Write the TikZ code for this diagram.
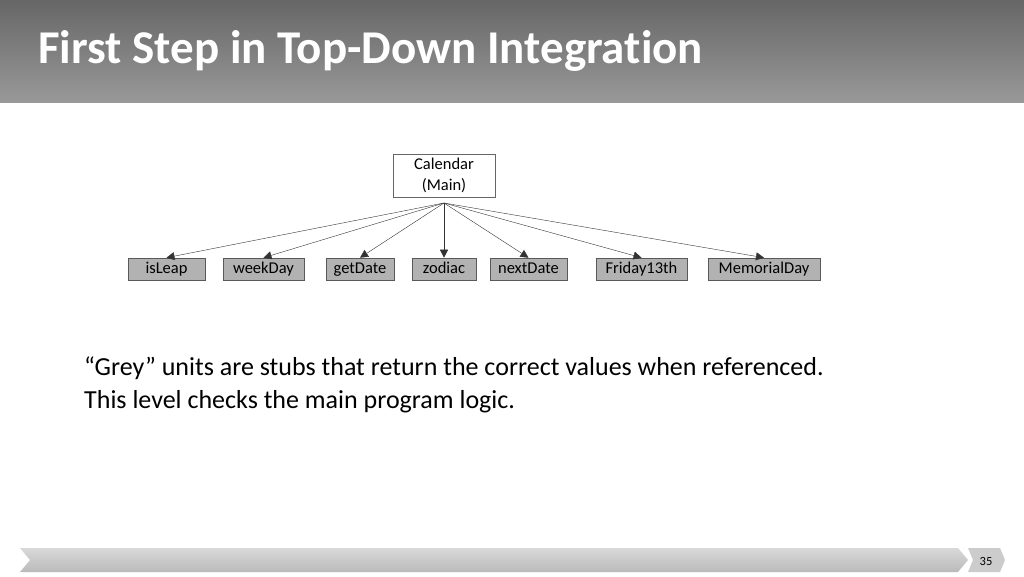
\documentclass[tikz,border=0pt]{standalone}
\usepackage{fontspec}
\setmainfont{Carlito}[Ligatures=NoCommon]
\usetikzlibrary{arrows.meta}
\begin{document}
\begin{tikzpicture}[x=1pt,y=-1pt,
  unit/.style={draw=gray!70!black,fill=black!30,line width=0.6pt,inner sep=0pt,text height=11pt,text depth=3pt,font=\fontsize{16.5}{18}\selectfont},
  link/.style={draw=black!80,line width=0.4pt,-{Triangle[length=8pt,width=8pt]}}]
\useasboundingbox (0,0) rectangle (1024,576);
\shade[top color=black!60,bottom color=black!40] (0,0) rectangle (1024,102);
\node[anchor=base west,text=white,font=\fontsize{47}{50}\selectfont\bfseries,inner sep=0] (title) at (38,63) {First Step in Top-Down Integration};
\node[draw=black!60,fill=white,line width=0.6pt,minimum width=102pt,minimum height=43pt,align=center,font=\fontsize{16.5}{21}\selectfont] (cal) at (444,175.5) {Calendar\\ (Main)};
\coordinate (o) at (444,203);
\foreach \n/\t/\a/\b in {isleap/isLeap/128/205,weekday/weekDay/223/304,getdate/getDate/326/394,zodiac/zodiac/412/476,nextdate/nextDate/490/567,fri/Friday13th/596/687,mem/MemorialDay/708/820}{
  \node[unit,minimum width={\b-\a},minimum height=22pt] (\n) at ({(\a+\b)/2},269) {\t};
  \draw[link] (o) -- (\n.north);
}
\node[anchor=base west,inner sep=0,font=\fontsize{26}{30}\selectfont] (txt) at (84,375) {“Grey” units are stubs that return the correct values when referenced.};
\node[anchor=base west,inner sep=0,font=\fontsize{26}{30}\selectfont] (txt2) at (84,408) {This level checks the main program logic.};
\shade[top color=black!15,bottom color=black!27] (20,548) -- (958,548) -- (968,560) -- (958,572) -- (20,572) -- (30,560) -- cycle;
\fill[black!20] (968,548) -- (1000,548) -- (1005,560) -- (1000,572) -- (968,572) -- (973,560) -- cycle;
\node[font=\fontsize{12.5}{14}\selectfont] (pg) at (986,561) {35};
\end{tikzpicture}
\end{document}
